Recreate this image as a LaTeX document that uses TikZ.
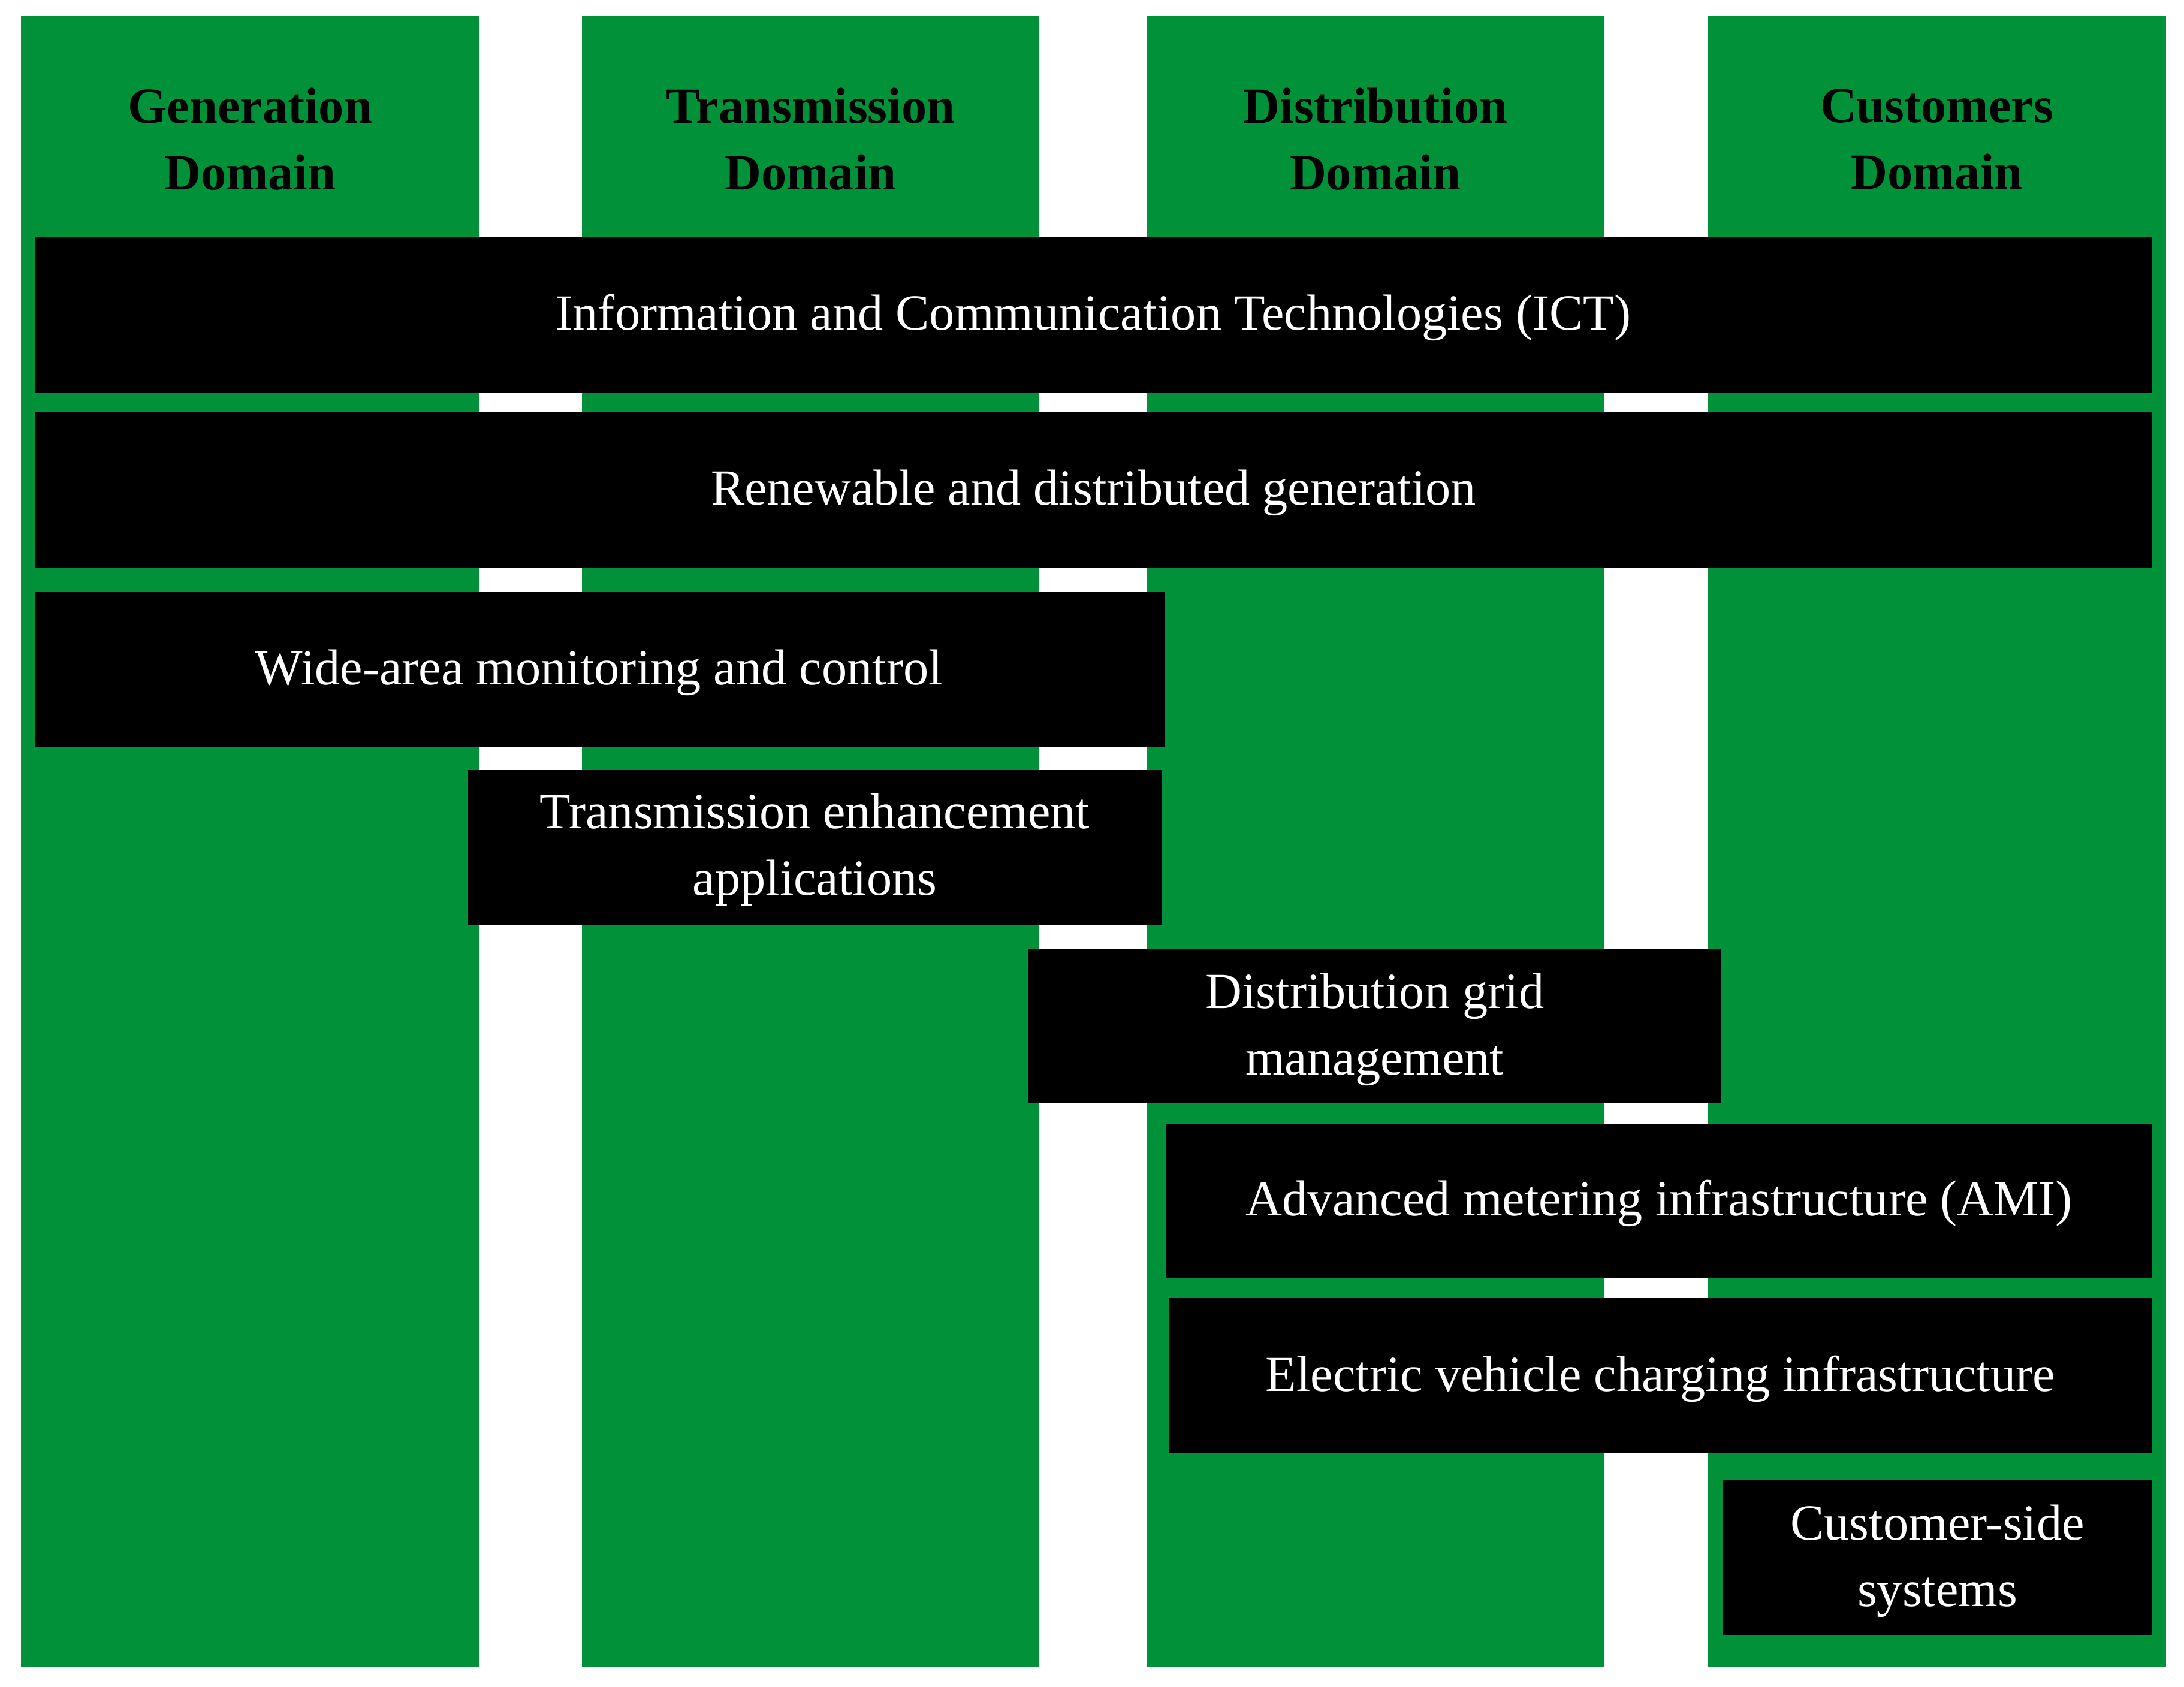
\documentclass[tikz,border=0pt]{standalone}
\usepackage{fontspec}
\setmainfont{Liberation Serif}
\definecolor{dgreen}{RGB}{0,145,57}
\begin{document}
\begin{tikzpicture}[x=0.02324cm,y=-0.02324cm,
  col/.style={fill=dgreen,draw=none},
  blk/.style={fill=black,draw=none},
  lbl/.style={text=white,align=center,font=\fontsize{24}{31.6}\selectfont},
  hdr/.style={text=black,align=center,font=\fontsize{24}{31.6}\selectfont\bfseries}]
\useasboundingbox (0,0) rectangle (1568,1211);
\fill[white] (0,0) rectangle (1568,1211);
\foreach \a/\b/\n/\t in {15/344/g/Generation\\Domain,418/746/t/Transmission\\Domain,823/1152/d/Distribution\\Domain,1226/1555/c/Customers\\Domain}{
  \fill[col] (\a,11) rectangle (\b,1197);
  \node[hdr] (h\n) at ({(\a+\b)/2},100) {\t};
}
\fill[blk] (25,170) rectangle (1545,282);
\node[lbl] (ict) at (785,228) {Information and Communication Technologies (ICT)};
\fill[blk] (25,296) rectangle (1545,408);
\node[lbl] (ren) at (785,354) {Renewable and distributed generation};
\fill[blk] (25,425) rectangle (836,536);
\node[lbl] (wam) at (430,483) {Wide-area monitoring and control};
\fill[blk] (336,553) rectangle (834,664);
\node[lbl] (tea) at (585,610) {Transmission enhancement\\applications};
\fill[blk] (738,681) rectangle (1236,792);
\node[lbl] (dgm) at (987,739) {Distribution grid\\management};
\fill[blk] (837,807) rectangle (1545,918);
\node[lbl] (ami) at (1191,864) {Advanced metering infrastructure (AMI)};
\fill[blk] (839,932) rectangle (1545,1043);
\node[lbl] (ev) at (1192,990) {Electric vehicle charging infrastructure};
\fill[blk] (1237,1063) rectangle (1545,1174);
\node[lbl] (css) at (1391,1121) {Customer-side\\systems};
\end{tikzpicture}
\end{document}
